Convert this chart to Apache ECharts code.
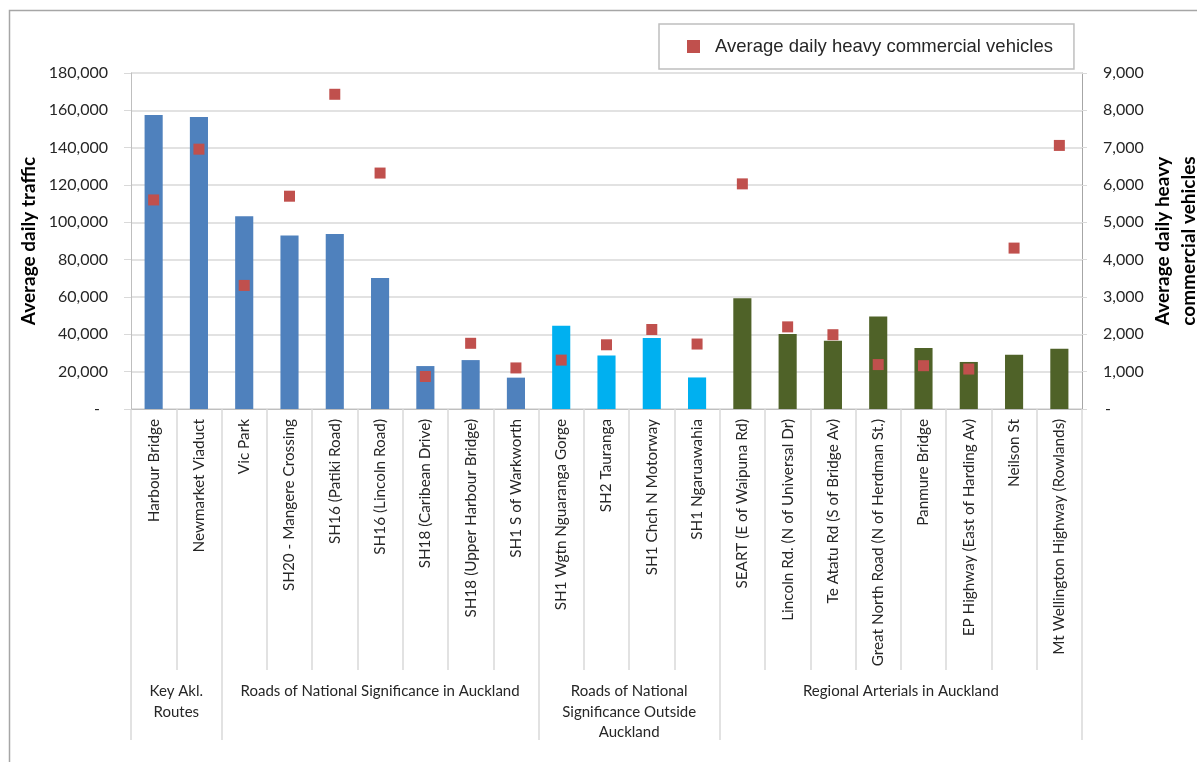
<!DOCTYPE html>
<html>
<head>
<meta charset="utf-8">
<script src="https://cdn.jsdelivr.net/npm/echarts@6/dist/echarts.min.js"></script>
<style>
  html, body { margin: 0; padding: 0; background: #ffffff; overflow: hidden; }
  #chart { width: 1197px; height: 762px; }
</style>
</head>
<body>
<div id="chart"></div>
<script>
// Count sites, in display order
const categories = [
  'Harbour Bridge', 'Newmarket Viaduct',
  'Vic Park', 'SH20 - Mangere Crossing', 'SH16 (Patiki Road)', 'SH16 (Lincoln Road)',
  'SH18 (Caribean Drive)', 'SH18 (Upper Harbour Bridge)', 'SH1 S of Warkworth',
  'SH1 Wgtn Nguaranga Gorge', 'SH2 Tauranga', 'SH1 Chch N Motorway', 'SH1 Ngaruawahia',
  'SEART (E of Waipuna Rd)', 'Lincoln Rd. (N of Universal Dr)', 'Te Atatu Rd (S of Bridge Av)',
  'Great North Road (N of Herdman St.)', 'Panmure Bridge', 'EP Highway (East of Harding Av)',
  'Neilson St', 'Mt Wellington Highway (Rowlands)'
];

// Road groupings and how many sites each holds
const groupNames = [
  'Key Akl.\nRoutes',
  'Roads of National Significance in Auckland',
  'Roads of National\nSignificance Outside\nAuckland',
  'Regional Arterials in Auckland'
];
const groupSizes = [2, 7, 4, 8];

// Average daily traffic (all vehicles)
const dailyTraffic = [
  157500, 156400,
  103200, 93000, 93700, 70200, 23000, 26200, 16800,
  44600, 28700, 38000, 16900,
  59300, 40200, 36600, 49600, 32700, 25200, 29100, 32300
];

// Average daily heavy commercial vehicles
const heavyVehicles = [
  5600, 6960,
  3310, 5700, 8430, 6320, 870, 1760, 1100,
  1310, 1720, 2130, 1740,
  6030, 2200, 1990, 1190, 1160, 1070, 4310, 7060
];

// Axis ranges
const trafficAxis = { min: 0, max: 180000, step: 20000 };
const heavyAxis = { min: 0, max: 9000, step: 1000 };

const groupColors = ['#4F81BD', '#4F81BD', '#00B0F0', '#4F6228'];

// Group boundaries and centres in category units
const bounds = [0];
groupSizes.forEach(n => bounds.push(bounds[bounds.length - 1] + n));
const centres = groupSizes.map((n, i) => bounds[i] + n / 2);

const groupOf = [];
groupSizes.forEach((n, g) => { for (let k = 0; k < n; k++) groupOf.push(g); });

const barData = dailyTraffic.map((v, i) => ({
  value: v,
  itemStyle: { color: groupColors[groupOf[i]] }
}));

const fmt = v => v === 0 ? '{d|-}' : Number(v).toLocaleString('en-US');

const tickFont = 'Lato, "Liberation Sans", sans-serif';
const gridGrey = '#d9d9d9';

const chart = echarts.init(document.getElementById('chart'), null, { renderer: 'canvas' });

chart.setOption({
  animation: false,
  backgroundColor: '#ffffff',
  textStyle: { fontFamily: tickFont },
  graphic: [{
    type: 'rect',
    silent: true,
    shape: { x: 9.5, y: 10.5, width: 1250, height: 820 },
    style: { fill: 'none', stroke: '#a6a6a6', lineWidth: 1.5 }
  }],
  legend: {
    data: ['Average daily heavy commercial vehicles'],
    left: 659,
    top: 24,
    padding: [13, 21, 13, 28],
    borderColor: '#bfbfbf',
    borderWidth: 1.5,
    itemWidth: 13,
    itemHeight: 13,
    icon: 'rect',
    textStyle: {
      fontFamily: '"Liberation Sans", Arial, sans-serif',
      fontSize: 18.5,
      color: '#262626',
      padding: [0, 0, 0, 10],
      lineHeight: 17
    }
  },
  grid: { left: 131, right: 115, top: 73, bottom: 353, containLabel: false, outerBoundsMode: 'none' },
  xAxis: [
    {
      type: 'category',
      data: categories,
      boundaryGap: true,
      axisLine: { show: true, lineStyle: { color: '#bfbfbf', width: 1 } },
      axisTick: { show: true, interval: 0, alignWithLabel: false, length: 261, lineStyle: { color: gridGrey, width: 1.5 } },
      axisLabel: {
        interval: 0,
        rotate: 90,
        margin: 10,
        fontSize: 15.3,
        color: '#262626',
        fontFamily: tickFont
      }
    },
    {
      type: 'value',
      min: 0,
      max: categories.length,
      position: 'bottom',
      axisLine: { show: false },
      splitLine: { show: false },
      axisTick: { show: true, customValues: bounds, length: 331, lineStyle: { color: gridGrey, width: 1.5 } },
      axisLabel: {
        customValues: centres,
        margin: 272,
        fontSize: 15,
        lineHeight: 20.5,
        color: '#262626',
        fontFamily: tickFont,
        formatter: v => {
          const idx = centres.findIndex(c => Math.abs(c - v) < 1e-6);
          return idx >= 0 ? groupNames[idx] : '';
        }
      }
    }
  ],
  yAxis: [
    {
      type: 'value',
      min: trafficAxis.min,
      max: trafficAxis.max,
      interval: trafficAxis.step,
      position: 'left',
      name: 'Average daily traffic',
      nameLocation: 'middle',
      nameRotate: 90,
      nameGap: 93,
      nameMoveOverlap: false,
      nameTextStyle: { fontFamily: tickFont, fontWeight: 'bold', fontSize: 19, color: '#000000' },
      axisLine: { show: true, lineStyle: { color: '#bfbfbf' } },
      axisTick: { show: true, length: 7, lineStyle: { color: gridGrey } },
      splitLine: { show: true, lineStyle: { color: gridGrey, width: 1.5 } },
      axisLabel: {
        margin: 23,
        fontSize: 16,
        color: '#262626',
        fontFamily: tickFont,
        formatter: fmt,
        rich: { d: { fontSize: 16, color: '#262626', padding: [0, 8, 0, 0] } }
      }
    },
    {
      type: 'value',
      min: heavyAxis.min,
      max: heavyAxis.max,
      interval: heavyAxis.step,
      position: 'right',
      name: 'Average daily heavy\ncommercial vehicles',
      nameLocation: 'middle',
      nameRotate: 90,
      nameGap: 68,
      nameMoveOverlap: false,
      nameTextStyle: { fontFamily: tickFont, fontWeight: 'bold', fontSize: 19, color: '#000000', lineHeight: 26 },
      axisLine: { show: true, lineStyle: { color: '#a6a6a6' } },
      axisTick: { show: true, length: 5, lineStyle: { color: gridGrey } },
      splitLine: { show: false },
      axisLabel: {
        margin: 21,
        fontSize: 16,
        color: '#262626',
        fontFamily: tickFont,
        formatter: fmt,
        rich: { d: { fontSize: 16, color: '#262626', padding: [0, 0, 0, 2] } }
      }
    }
  ],
  series: [
    {
      name: 'Average daily traffic',
      type: 'bar',
      xAxisIndex: 0,
      yAxisIndex: 0,
      barWidth: '40%',
      data: barData
    },
    {
      name: 'Average daily heavy commercial vehicles',
      type: 'scatter',
      xAxisIndex: 0,
      yAxisIndex: 1,
      symbol: 'rect',
      symbolSize: 11,
      itemStyle: { color: '#C0504D', opacity: 1 },
      data: heavyVehicles
    }
  ]
});
</script>
</body>
</html>
